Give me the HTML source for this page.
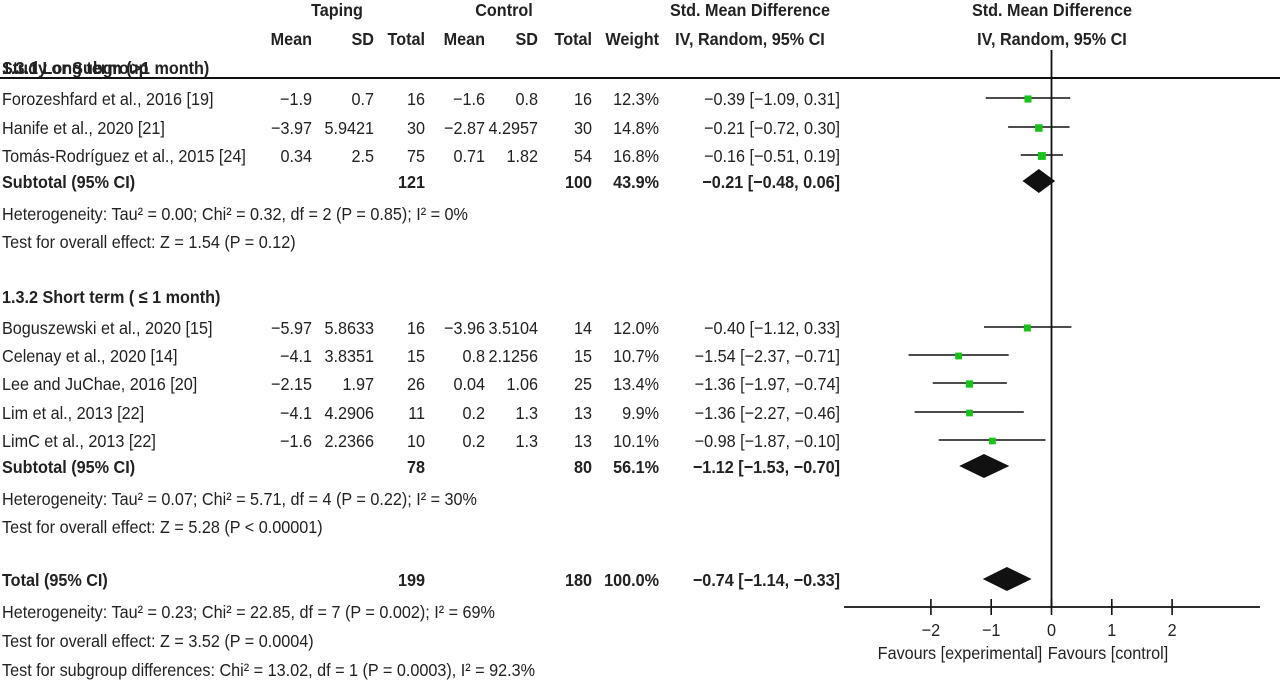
<!DOCTYPE html>
<html><head><meta charset="utf-8"><style>
html,body{margin:0;padding:0;background:#fff;}
svg{display:block;font-family:"Liberation Sans",sans-serif;}
text{fill:#222;font-size:18px;}
.b{font-weight:bold;}
</style></head><body>
<svg id="chart" width="1280" height="682" viewBox="0 0 1280 682" xmlns="http://www.w3.org/2000/svg">
<line x1="0" y1="78" x2="1280" y2="78" stroke="#111" stroke-width="2"/>
<g id="txt"></g>
<g id="plot"></g>
</svg>
<script>
const studies = ["Forozeshfard et al., 2016 [19]","Hanife et al., 2020 [21]","Tomás-Rodríguez et al., 2015 [24]","Boguszewski et al., 2020 [15]","Celenay et al., 2020 [14]","Lee and JuChae, 2016 [20]","Lim et al., 2013 [22]","LimC et al., 2013 [22]"];
const studyRowY = [98,127,155,327,355,383,412,440];
const tMean = ["−1.9","−3.97","0.34","−5.97","−4.1","−2.15","−4.1","−1.6"];
const tSD = ["0.7","5.9421","2.5","5.8633","3.8351","1.97","4.2906","2.2366"];
const tN = ["16","30","75","16","15","26","11","10"];
const cMean = ["−1.6","−2.87","0.71","−3.96","0.8","0.04","0.2","0.2"];
const cSD = ["0.8","4.2957","1.82","3.5104","2.1256","1.06","1.3","1.3"];
const cN = ["16","30","54","14","15","25","13","13"];
const weights = [12.3,14.8,16.8,12.0,10.7,13.4,9.9,10.1];
const est = [-0.39,-0.21,-0.16,-0.40,-1.54,-1.36,-1.36,-0.98];
const lo = [-1.09,-0.72,-0.51,-1.12,-2.37,-1.97,-2.27,-1.87];
const hi = [0.31,0.30,0.19,0.33,-0.71,-0.74,-0.46,-0.10];
const pooledNames = ["Subtotal (95% CI)","Subtotal (95% CI)","Total (95% CI)"];
const pooledY = [181,466,579];
const pooledTN = ["121","78","199"];
const pooledCN = ["100","80","180"];
const pooledW = ["43.9%","56.1%","100.0%"];
const pooledEst = [-0.21,-1.12,-0.74];
const pooledLo = [-0.48,-1.53,-1.14];
const pooledHi = [0.06,-0.70,-0.33];
const xTicks = [-2,-1,0,1,2];
const xTickLabels = ["−2","−1","0","1","2"];

const NS="http://www.w3.org/2000/svg";
const txt=document.getElementById('txt'), plot=document.getElementById('plot');
const X0=1051.5, SCALE=60.3;
const xs=v=>X0+v*SCALE;
const fmt=v=>(v<0?"−":"")+Math.abs(v).toFixed(2);
function T(s,x,y,anchor,bold,name){
  const t=document.createElementNS(NS,'text');
  t.setAttribute('transform','translate('+x+','+y+') scale(0.9,1)');
  t.setAttribute('text-anchor',anchor||'start');
  if(bold) t.setAttribute('class','b');
  t.textContent=s;
  
  
  txt.appendChild(t);return t;
}
function L(x1,y1,x2,y2,w,name){
  const l=document.createElementNS(NS,'line');
  l.setAttribute('x1',x1);l.setAttribute('y1',y1);l.setAttribute('x2',x2);l.setAttribute('y2',y2);
  l.setAttribute('stroke','#111');l.setAttribute('stroke-width',w||1.6);
  
  
  plot.appendChild(l);return l;
}
T("Taping",337,16,'middle',true,'taping-header');
T("Control",504,16,'middle',true,'control-header');
T("Std. Mean Difference",750,16,'middle',true,'smd-header');
T("Std. Mean Difference",1052,16,'middle',true,'plot-header');
T("IV, Random, 95% CI",1052,45,'middle',true,'plot-subheader');
[["Mean",312],["SD",374],["Total",425],["Mean",485],["SD",538],["Total",592],["Weight",659],["IV, Random, 95% CI",750]].forEach(h=>{
  T(h[0],h[1],45,h[1]===750?'middle':'end',true,'column-header');
});
T("Study or Subgroup",2,74,'start',true,'study-column-header');
T("1.3.1 Long term (>1 month)",2,74,'start',true,'group-long-term-title');
T("1.3.2 Short term ( ≤ 1 month)",2,303,'start',true,'group-short-term-title');
studies.forEach((s,i)=>{
  const y=studyRowY[i]+7;
  T(s,2,y,'start',false,'study-name');
  T(tMean[i],312,y,'end',false,'taping-mean');
  T(tSD[i],374,y,'end',false,'taping-sd');
  T(tN[i],425,y,'end',false,'taping-total');
  T(cMean[i],485,y,'end',false,'control-mean');
  T(cSD[i],538,y,'end',false,'control-sd');
  T(cN[i],592,y,'end',false,'control-total');
  T(weights[i].toFixed(1)+"%",659,y,'end',false,'study-weight');
  T(fmt(est[i])+" ["+fmt(lo[i])+", "+fmt(hi[i])+"]",840,y,'end',false,'study-ci');
  L(xs(lo[i]),studyRowY[i],xs(hi[i]),studyRowY[i],1.6,'ci-whisker');
  const sz=5+weights[i]*0.17;
  const r=document.createElementNS(NS,'rect');
  r.setAttribute('x',xs(est[i])-sz/2);r.setAttribute('y',studyRowY[i]-sz/2+1);
  r.setAttribute('width',sz);r.setAttribute('height',sz);r.setAttribute('fill','#19c219');
  
  
  plot.appendChild(r);
});
pooledNames.forEach((s,i)=>{
  const y=pooledY[i]+7;
  T(s,2,y,'start',true,'pooled-label');
  T(pooledTN[i],425,y,'end',true,'pooled-taping-total');
  T(pooledCN[i],592,y,'end',true,'pooled-control-total');
  T(pooledW[i],659,y,'end',true,'pooled-weight');
  T(fmt(pooledEst[i])+" ["+fmt(pooledLo[i])+", "+fmt(pooledHi[i])+"]",840,y,'end',true,'pooled-ci');
  const p=document.createElementNS(NS,'polygon');
  const c=pooledY[i];
  p.setAttribute('points',xs(pooledLo[i])+','+c+' '+xs(pooledEst[i])+','+(c-12)+' '+xs(pooledHi[i])+','+c+' '+xs(pooledEst[i])+','+(c+12));
  p.setAttribute('fill','#111');
  
  
  plot.appendChild(p);
});
[["Heterogeneity: Tau² = 0.00; Chi² = 0.32, df = 2 (P = 0.85); I² = 0%",220],
 ["Test for overall effect: Z = 1.54 (P = 0.12)",248],
 ["Heterogeneity: Tau² = 0.07; Chi² = 5.71, df = 4 (P = 0.22); I² = 30%",505],
 ["Test for overall effect: Z = 5.28 (P < 0.00001)",533],
 ["Heterogeneity: Tau² = 0.23; Chi² = 22.85, df = 7 (P = 0.002); I² = 69%",618],
 ["Test for overall effect: Z = 3.52 (P = 0.0004)",647],
 ["Test for subgroup differences: Chi² = 13.02, df = 1 (P = 0.0003), I² = 92.3%",676]].forEach(a=>T(a[0],2,a[1],'start',false,'statistics-note'));
L(X0,50,X0,607,1.8,'zero-line');
L(844,607,1260,607,1.8,'x-axis');
xTicks.forEach((v,i)=>{
  L(xs(v),599,xs(v),615,1.6,'x-tick');
  T(xTickLabels[i],xs(v),636,'middle',false,'x-tick-label');
});
T("Favours [experimental]",960,659,'middle',false,'favours-experimental-label');
T("Favours [control]",1108,659,'middle',false,'favours-control-label');
</script>
</body></html>
